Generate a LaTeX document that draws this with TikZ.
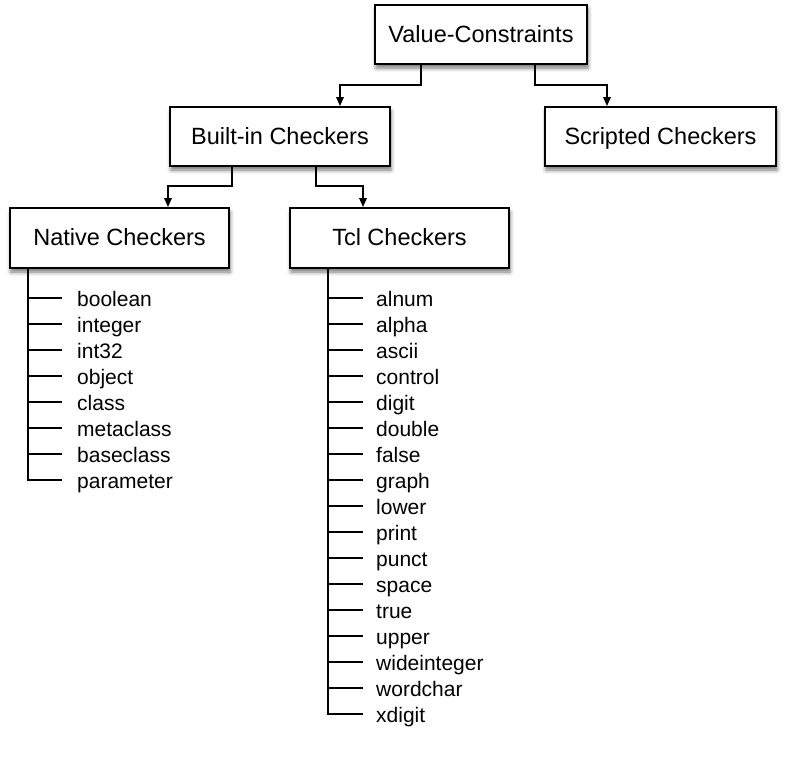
\documentclass[tikz,border=0pt]{standalone}
\usepackage{fontspec}
\setmainfont{Liberation Sans}
\usetikzlibrary{arrows.meta,shadows.blur,calc}
\begin{document}
\begin{tikzpicture}[x=1pt,y=-1pt,
  box/.style={draw,line width=1.9pt,fill=white,inner sep=0pt,text height=19pt,text depth=4pt,
    font=\fontsize{23.5}{28}\selectfont,
    blur shadow={shadow xshift=1pt,shadow yshift=-4pt,shadow blur radius=4pt,shadow opacity=55}},
  leaf/.style={anchor=west,inner sep=0pt,text height=21pt,text depth=5pt,font=\fontsize{21}{25}\selectfont},
  con/.style={line width=1.8pt},
  arr/.style={con,-{Triangle[length=9pt,width=7.5pt]}}]
\useasboundingbox (0,0) rectangle (786,756);
\node[box,minimum width=212pt,minimum height=59pt] (VC) at (481,34.5) {Value-Constraints};
\node[box,minimum width=220pt,minimum height=59pt] (BI) at (280,136.5) {Built-in Checkers};
\node[box,minimum width=231pt,minimum height=59pt] (SC) at (660.5,136.5) {Scripted Checkers};
\node[box,minimum width=219pt,minimum height=60pt] (NC) at (119.5,238) {Native Checkers};
\node[box,minimum width=219pt,minimum height=60pt] (TC) at (399.5,238) {Tcl Checkers};
\coordinate (l1) at (0,85);
\coordinate (l2) at (0,186);
\draw[arr] ([xshift=-60pt]VC.south) |- ([xshift=60pt]BI.north |- l1) -- ([xshift=60pt]BI.north);
\draw[arr] ([xshift=54pt]VC.south) |- ([xshift=-53.5pt]SC.north |- l1) -- ([xshift=-53.5pt]SC.north);
\draw[arr] ([xshift=-48pt]BI.south) |- ([xshift=48.5pt]NC.north |- l2) -- ([xshift=48.5pt]NC.north);
\draw[arr] ([xshift=36pt]BI.south) |- ([xshift=-36.5pt]TC.north |- l2) -- ([xshift=-36.5pt]TC.north);
% native leaves
\foreach \t [count=\i] in {boolean,integer,int32,object,class,metaclass,baseclass,parameter}
  \node[leaf] (n\i) at (77,{298+(\i-1)*26}) {\t};
\foreach \i in {1,...,7}
  \draw[con] ([xshift=-15pt]n\i.west) -- ([xshift=19pt]n\i.west -| NC.south west);
\draw[con] ([xshift=19pt]NC.south west) |- ([xshift=-15pt]n8.west);
% tcl leaves
\foreach \t [count=\i] in {alnum,alpha,ascii,control,digit,double,false,graph,lower,print,punct,space,true,upper,wideinteger,wordchar,xdigit}
  \node[leaf] (t\i) at (376,{298+(\i-1)*26}) {\t};
\foreach \i in {1,...,16}
  \draw[con] ([xshift=-13pt]t\i.west) -- ([xshift=39pt]t\i.west -| TC.south west);
\draw[con] ([xshift=39pt]TC.south west) |- ([xshift=-13pt]t17.west);
\end{tikzpicture}
\end{document}
